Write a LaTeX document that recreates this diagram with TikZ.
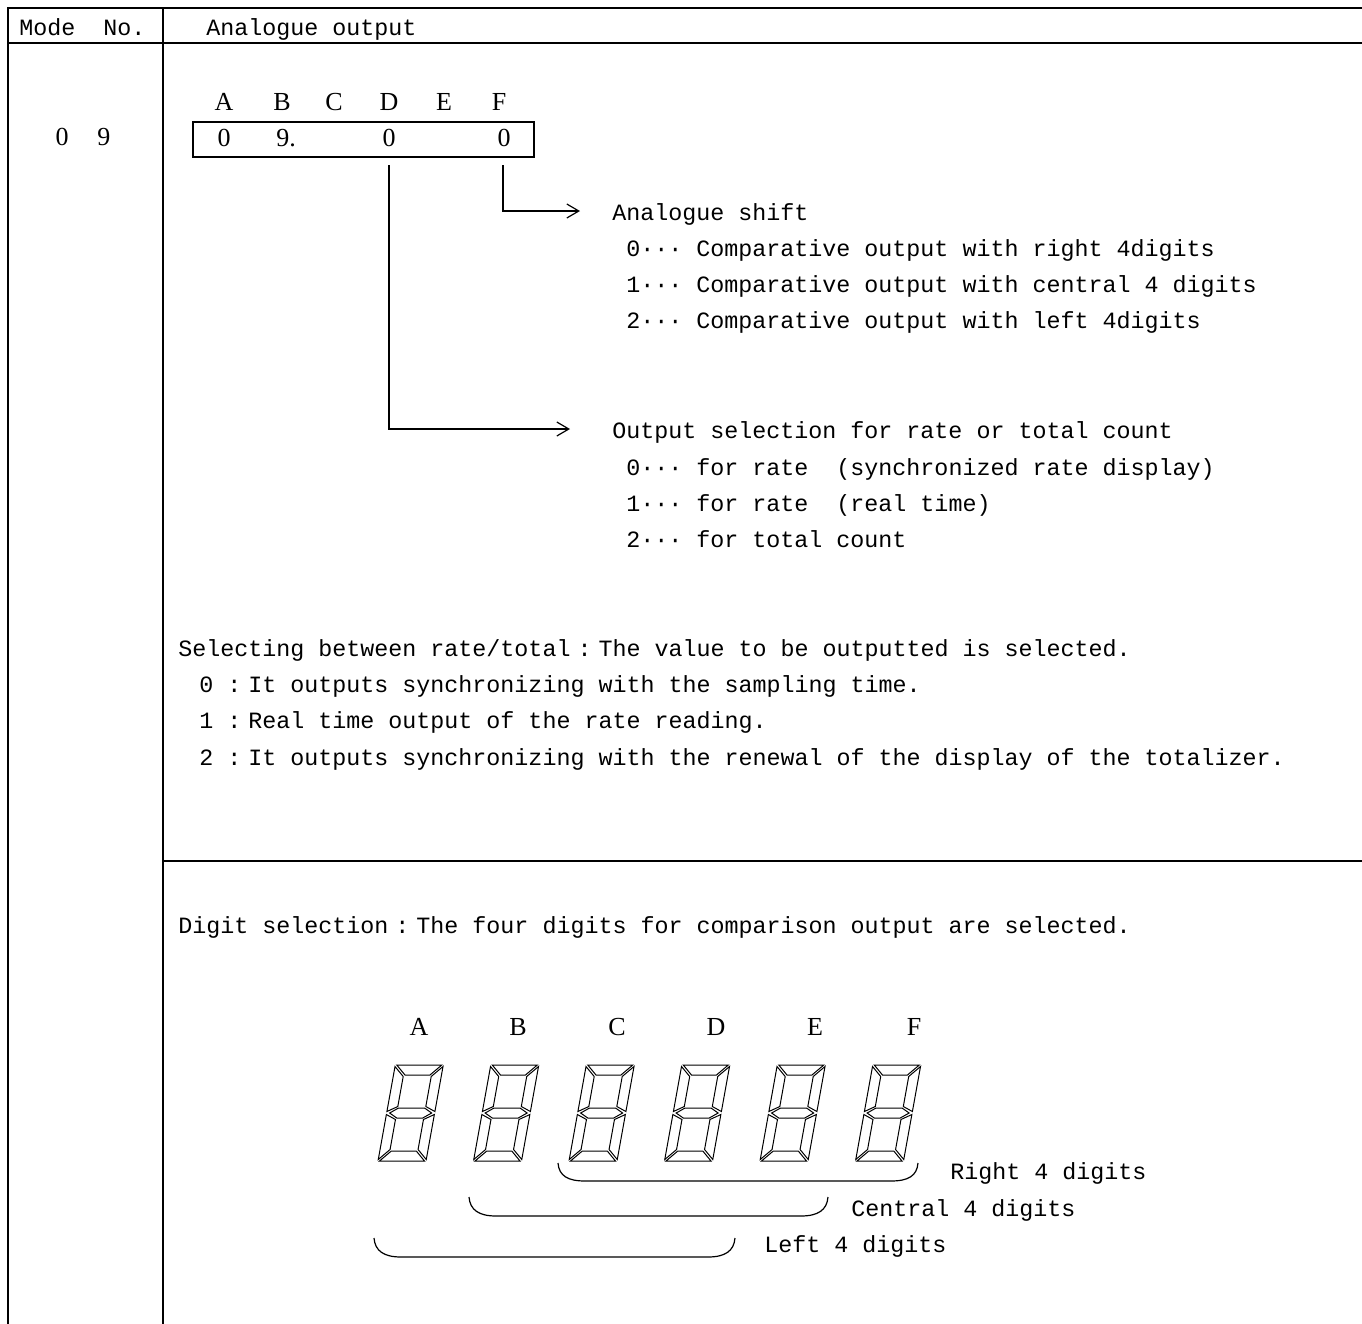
\documentclass[tikz,border=0pt]{standalone}
\usepackage{fontspec}
\usepackage{tikz}
\usetikzlibrary{arrows.meta}
\usetikzlibrary{positioning}
\newfontfamily\monofont{Liberation Mono}
\newfontfamily\romfont{Liberation Serif}
% full-width colon and digit (two cells of the mono font)
\newcommand{\fwc}{\makebox[1.2em]{:}}
\newcommand{\fwd}[1]{\makebox[1.2em]{#1}}

\tikzset{
  % one slanted seven-segment digit, bottom-left corner at the origin
  sevenseg/.pic={
    \begin{scope}[yscale=-1, xslant=-0.18, line width=0.5pt]
      \draw (1.5,96) -- (46.5,96) -- (36.5,86) -- (11.5,86) -- cycle;
      \draw (1.5,0) -- (46.5,0) -- (36.5,10) -- (11.5,10) -- cycle;
      \draw (3,48) -- (11,53) -- (37,53) -- (45,48) -- (37,43) -- (11,43) -- cycle;
      \draw (0,94.5) -- (10,84.5) -- (10,54.5) -- (0,49.5) -- cycle;
      \draw (0,1.5) -- (10,11.5) -- (10,41.5) -- (0,46.5) -- cycle;
      \draw (48,94.5) -- (38,84.5) -- (38,54.5) -- (48,49.5) -- cycle;
      \draw (48,1.5) -- (38,11.5) -- (38,41.5) -- (48,46.5) -- cycle;
    \end{scope}
  }
}

\begin{document}
\begin{tikzpicture}[x=0.5pt, y=-0.5pt,
  % table rules
  rule/.style={line width=1pt},
  % thin lines, arrows and brackets
  conn/.style={line width=0.6pt},
  % mono body text, placed on its baseline
  txt/.style={anchor=base west, inner sep=0pt, font=\monofont\fontsize{11.67}{18}\selectfont},
  % serif letters and digits
  rom/.style={anchor=base, inner sep=0pt, font=\romfont\fontsize{13}{15}\selectfont},
  >={Straight Barb[length=6pt, width=7pt]}
]
\useasboundingbox (0,0) rectangle (1362,1324);

% table
\draw[rule] (1362,8) -- (8,8) -- (8,1324);
\draw[rule] (8,43) -- (1362,43);
\draw[rule] (163,8) -- (163,1324);
\draw[rule] (163,861) -- (1362,861);

\node[txt] (hdmode)  at (19,35)  {Mode~~No.};
\node[txt] (hdtitle) at (206,35) {Analogue output};
\node[rom] (mode)    at (83,145) {0\hspace{14.5pt}9};

% setting code in its box
\node[draw, rule, minimum width=170.5pt, minimum height=17.5pt, inner sep=0pt] (code) at (363.5,139) {};
\foreach \l/\x in {A/224, B/282, C/334, D/389, E/444, F/499}
  \node[rom] (l\l) at (\x,110) {\l};
\node[rom] (vA) at (224,146) {0};
\node[rom, anchor=base west] (vB) at (276,146) {9.};
\node[rom] (vD) at (389,146) {0};
\node[rom] (vF) at (504,146) {0};

\coordinate (dtop) at (389,165);
\coordinate (ftop) at (503,165);

% analogue shift
\node[txt] (shift)  at (612,220) {Analogue shift};
\node[txt] (shift0) at (612,256) {~0··· Comparative output with right 4digits};
\node[txt] (shift1) at (612,292) {~1··· Comparative output with central 4 digits};
\node[txt] (shift2) at (612,328) {~2··· Comparative output with left 4digits};

% rate or total
\node[txt] (outsel) at (612,438) {Output selection for rate or total count};
\node[txt] (outsel0) at (612,475) {~0··· for rate~~(synchronized rate display)};
\node[txt] (outsel1) at (612,511) {~1··· for rate~~(real time)};
\node[txt] (outsel2) at (612,547) {~2··· for total count};

\draw[conn, ->] (ftop) |- ([xshift=-16pt, yshift=4.5pt]shift.base west);
\draw[conn, ->] (dtop) |- ([xshift=-21pt, yshift=4.5pt]outsel.base west);

% notes
\node[txt] (rt)  at (178,656) {Selecting between rate/total\fwc The value to be outputted is selected.};
\node[txt] (rt0) at (178,692) {~\fwd{0}\fwc It outputs synchronizing with the sampling time.};
\node[txt] (rt1) at (178,728) {~\fwd{1}\fwc Real time output of the rate reading.};
\node[txt] (rt2) at (178,765) {~\fwd{2}\fwc It outputs synchronizing with the renewal of the display of the totalizer.};

\node[txt] (dgsel) at (178,933) {Digit selection\fwc The four digits for comparison output are selected.};

% seven-segment display
\foreach \l [count=\i from 0] in {A,B,C,D,E,F} {
  \node[rom] (s\l) at (419+99*\i,1035) {\l};
  \pic at (378+95.5*\i,1161) {sevenseg};
}

% brackets under the digits
\draw[conn] (558,1163) .. controls (559,1176) and (568,1181) .. (585,1181) -- (891,1181)
  .. controls (908,1181) and (917,1176) .. (918,1163);
\draw[conn] (469,1197) .. controls (470,1210) and (479,1216) .. (496,1216) -- (801,1216)
  .. controls (818,1216) and (827,1210) .. (828,1197);
\draw[conn] (374,1238) .. controls (375,1251) and (384,1257) .. (401,1257) -- (708,1257)
  .. controls (725,1257) and (734,1251) .. (735,1238);

\node[txt] (right)   at (950,1179) {Right 4 digits};
\node[txt] (central) at (851,1216) {Central 4 digits};
\node[txt] (left)    at (764,1252) {Left 4 digits};

\end{tikzpicture}
\end{document}
